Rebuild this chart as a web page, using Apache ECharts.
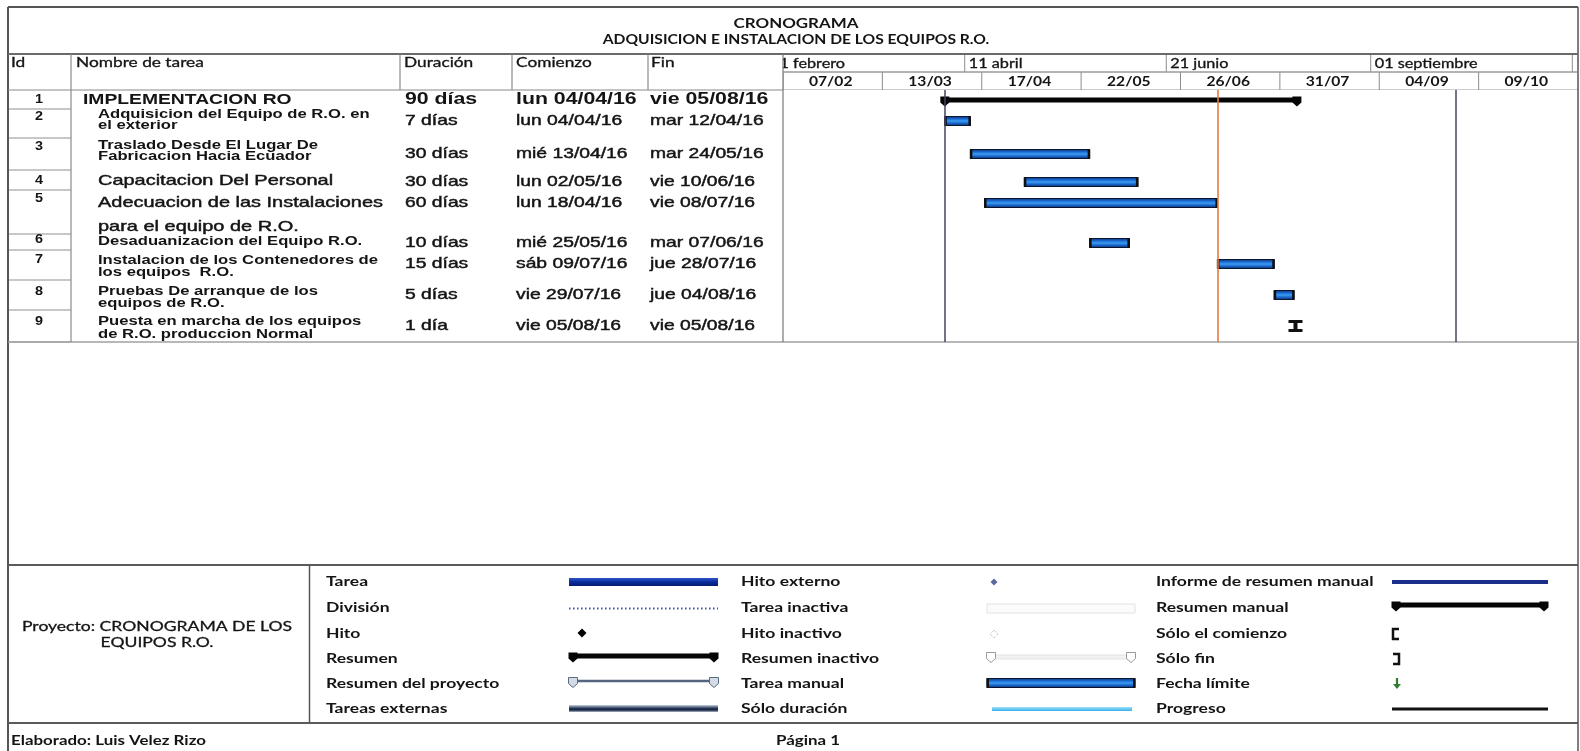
<!DOCTYPE html>
<html>
<head>
<meta charset="utf-8">
<script src="https://cdn.jsdelivr.net/npm/echarts@6/dist/echarts.min.js"></script>
<style>
  html, body { margin: 0; padding: 0; background: #fff; }
  #chart { width: 1580px; height: 751px; }
</style>
</head>
<body>
<div id="chart"></div>
<script>
// ---------------- Schedule data ----------------
const taskIds = [1, 2, 3, 4, 5, 6, 7, 8, 9];
const taskNames = [
  'IMPLEMENTACION RO',
  'Adquisicion del Equipo de R.O. en\nel exterior',
  'Traslado Desde El Lugar De\nFabricacion Hacia Ecuador',
  'Capacitacion Del Personal',
  'Adecuacion de las Instalaciones\npara el equipo de R.O.',
  'Desaduanizacion del Equipo R.O.',
  'Instalacion de los Contenedores de\nlos equipos  R.O.',
  'Pruebas De arranque de los\nequipos de R.O.',
  'Puesta en marcha de los equipos\nde R.O. produccion Normal'
];
const durationDays = [90, 7, 30, 30, 60, 10, 15, 5, 1];
const startDates = ['2016-04-04', '2016-04-04', '2016-04-13', '2016-05-02', '2016-04-18',
                    '2016-05-25', '2016-07-09', '2016-07-29', '2016-08-05'];
const finishDates = ['2016-08-05', '2016-04-12', '2016-05-24', '2016-06-10', '2016-07-08',
                     '2016-06-07', '2016-07-28', '2016-08-04', '2016-08-05'];
const taskKinds = ['summary', 'task', 'task', 'task', 'task', 'task', 'task', 'task', 'startFinish'];

// Timescale tiers
const upperTierStarts = ['2016-02-01', '2016-04-11', '2016-06-21', '2016-09-01', '2016-11-11'];
const upperTierLabels = ['01 febrero', '11 abril', '21 junio', '01 septiembre', '11 noviembre'];
const lowerTierStarts = ['2016-02-07', '2016-03-13', '2016-04-17', '2016-05-22',
                         '2016-06-26', '2016-07-31', '2016-09-04', '2016-10-09'];
const lowerTierLabels = ['07/02', '13/03', '17/04', '22/05', '26/06', '31/07', '04/09', '09/10'];
const scaleStart = '2016-02-07';
const scaleEnd = '2016-11-13';

// Vertical date markers
const projectStartDate = '2016-04-04';
const currentDate = '2016-07-09';
const outerMarkerDate = '2016-10-01';

// Texts
const titleLines = ['CRONOGRAMA', 'ADQUISICION E INSTALACION DE LOS EQUIPOS R.O.'];
const columnHeaders = ['Id', 'Nombre de tarea', 'Duración', 'Comienzo', 'Fin'];
const legendCol1 = ['Tarea', 'División', 'Hito', 'Resumen', 'Resumen del proyecto', 'Tareas externas'];
const legendCol2 = ['Hito externo', 'Tarea inactiva', 'Hito inactivo', 'Resumen inactivo', 'Tarea manual', 'Sólo duración'];
const legendCol3 = ['Informe de resumen manual', 'Resumen manual', 'Sólo el comienzo', 'Sólo fin', 'Fecha límite', 'Progreso'];
const projectLines = ['Proyecto: CRONOGRAMA DE LOS', 'EQUIPOS R.O.'];
const footerLeft = 'Elaborado: Luis Velez Rizo';
const footerCenter = 'Página 1';

// ---------------- Layout ----------------
const SX = 1.33;                       // wide lettering of the printed sheet
const TABLE_FONT = '"Liberation Sans", Arial, sans-serif';
const HEAD_FONT = 'Lato, "Open Sans", sans-serif';
const INK = '#141414';
const RULE = '#8a8a8a';
const FRAME = '#555';

const FRAME_L = 8, FRAME_R = 1578, FRAME_T = 7;
const HEAD_T = 54, BODY_T = 90, BODY_B = 342, LEG_T = 565, LEG_B = 723;
const CHART_L = 783;
const COL_SEP = [71, 400, 512, 648];

// rows, in offsets from the top of the body
const rowEdges = [0, 19, 48, 80, 100, 144, 160, 190, 220, 252];
const rowMid = [10, 31, 64, 92, 113, 153, 174, 205, 236];
const idY = [10, 27, 57, 91, 109, 150, 170, 202, 232];
const nameY = [[10], [25, 36], [56, 67], [91], [113, 137], [152], [171, 183], [202, 214], [232, 245]];
const nameKind = ['main', 'small', 'small', 'large', 'large', 'small', 'small', 'small', 'small'];
// table columns, offsets from the table's left edge
const COL = { idEnd: 63, id: 31, nameMain: 75, nameSub: 90, dur: 397, start: 508, fin: 642 };

// ---------------- Helpers ----------------
function parts(s) { return s.split('-').map(Number); }
function ts(s) { const [y, m, d] = parts(s); return new Date(y, m - 1, d).getTime(); }
function dayAfter(s) { const [y, m, d] = parts(s); return new Date(y, m - 1, d + 1).getTime(); }
const WEEKDAYS = ['dom', 'lun', 'mar', 'mié', 'jue', 'vie', 'sáb'];
function two(n) { return String(n).padStart(2, '0'); }
function fmtDate(s) {
  const [y, m, d] = parts(s);
  return WEEKDAYS[new Date(y, m - 1, d).getDay()] + ' ' + two(d) + '/' + two(m) + '/' + two(y % 100);
}
function fmtDuration(n) { return n === 1 ? '1 día' : n + ' días'; }

function txt(x, y, text, o) {
  o = o || {};
  const align = o.align || 'left';
  const style = {
    text: text, fill: o.color || INK,
    fontFamily: o.family || HEAD_FONT, fontSize: o.size || 13, fontWeight: o.weight || 'normal',
    align: align, verticalAlign: 'middle', textAlign: align, textVerticalAlign: 'middle'
  };
  if (o.heavy) { style.stroke = o.color || INK; style.lineWidth = o.heavy; }
  return { type: 'text', x: x, y: y, scaleX: o.sx || SX, silent: true, z: 10, style: style };
}
function seg(x1, y1, x2, y2, color, w, dash) {
  return { type: 'line', silent: true, z: 5, shape: { x1, y1, x2, y2 },
           style: { stroke: color || RULE, lineWidth: w || 1, lineDash: dash || null } };
}

const BAR_FILL = () => new echarts.graphic.LinearGradient(0, 0, 0, 1, [
  { offset: 0, color: '#0c2c6a' }, { offset: 0.3, color: '#1b6cd4' },
  { offset: 0.5, color: '#3c9cf2' }, { offset: 0.72, color: '#1a66cc' },
  { offset: 1, color: '#09275f' }
]);

function taskParts(x0, x1, y) {
  return [
    { type: 'rect', shape: { x: x0, y: y - 4.5, width: Math.max(x1 - x0, 1), height: 9 },
      style: { fill: BAR_FILL(), stroke: '#0a1630', lineWidth: 1 } },
    { type: 'rect', shape: { x: x0 - 0.5, y: y - 5, width: 2.5, height: 10 }, style: { fill: '#111' } },
    { type: 'rect', shape: { x: x1 - 2, y: y - 5, width: 2.5, height: 10 }, style: { fill: '#111' } }
  ];
}
function capPoints(x, y) {
  return [[x - 4.5, y - 3.5], [x + 4.5, y - 3.5], [x + 4.5, y + 2.5], [x, y + 6.5], [x - 4.5, y + 2.5]];
}
function summaryParts(x0, x1, y, fill) {
  return [
    { type: 'rect', shape: { x: x0, y: y - 2.5, width: x1 - x0, height: 5 }, style: { fill } },
    { type: 'polygon', shape: { points: capPoints(x0, y) }, style: { fill } },
    { type: 'polygon', shape: { points: capPoints(x1, y) }, style: { fill } }
  ];
}
function startFinishParts(cx, y) {
  return [
    { type: 'rect', shape: { x: cx - 7, y: y - 6, width: 14, height: 3 }, style: { fill: '#111' } },
    { type: 'rect', shape: { x: cx - 7, y: y + 3, width: 14, height: 3 }, style: { fill: '#111' } },
    { type: 'rect', shape: { x: cx - 2, y: y - 6, width: 4, height: 12 }, style: { fill: '#111' } }
  ];
}
function diamond(cx, cy, r) { return [[cx, cy - r], [cx + r, cy], [cx, cy + r], [cx - r, cy]]; }

// ---------------- Series data ----------------
const AXIS_MIN = ts(scaleStart), AXIS_MAX = ts(scaleEnd);

const taskData = taskIds.map((id, i) => [ts(startDates[i]), dayAfter(finishDates[i]), i]);

const upperTierData = upperTierStarts.map((s, i) =>
  [ts(s), i + 1 < upperTierStarts.length ? ts(upperTierStarts[i + 1]) : AXIS_MAX, 0, i]);
const lowerTierData = lowerTierStarts.map((s, i) =>
  [ts(s), i + 1 < lowerTierStarts.length ? ts(lowerTierStarts[i + 1]) : AXIS_MAX, 1, i]);

function tierRenderer(labels, centered) {
  return function (params, api) {
    const tier = api.value(2), idx = api.value(3);
    const a = api.coord([api.value(0), tier]);
    const b = api.coord([api.value(1), tier + 1]);
    const midY = (a[1] + b[1]) / 2 + 0.5;
    const label = centered
      ? txt((a[0] + b[0]) / 2 - 2, midY, labels[idx], { size: 12.5, align: 'center', weight: 'bold', sx: 1.25 })
      : txt(a[0] + 4, midY, labels[idx], { size: 12.5, sx: 1.3, heavy: 0.3 });
    return {
      type: 'group',
      children: [
        seg(a[0], a[1], a[0], b[1], '#8c8c8c', 1),
        seg(a[0], b[1], b[0], b[1], '#9a9a9a', 1),
        label
      ]
    };
  };
}

function renderTask(params, api) {
  const i = api.value(2);
  const p0 = api.coord([api.value(0), rowMid[i]]);
  const p1 = api.coord([api.value(1), rowMid[i]]);
  let children;
  if (taskKinds[i] === 'summary') children = summaryParts(p0[0], p1[0], p0[1], '#050505');
  else if (taskKinds[i] === 'startFinish') children = startFinishParts((p0[0] + p1[0]) / 2, p0[1]);
  else children = taskParts(p0[0], p1[0], p0[1]);
  return { type: 'group', children };
}

function renderRow(params, api) {
  const i = api.value(0);
  const at = (x, y) => api.coord([x, y]);
  const children = [];
  // Id cell
  const l = at(0, rowEdges[i + 1]), r = at(COL.idEnd, rowEdges[i + 1]);
  children.push(seg(l[0], l[1], r[0], r[1], '#8f8f8f', 1.2));
  const idp = at(COL.id, idY[i]);
  children.push(txt(idp[0], idp[1], String(taskIds[i]),
    { family: TABLE_FONT, size: 12, weight: 'bold', align: 'center', sx: 1.2 }));
  // task name
  const kind = nameKind[i];
  const nameFont = kind === 'main' ? { size: 14.5, weight: 'bold' }
                 : kind === 'large' ? { size: 15, weight: 'normal', heavy: 0.45 }
                 : { size: 12.5, weight: 'bold' };
  const lines = taskNames[i].split('\n');
  lines.forEach((line, k) => {
    const p = at(kind === 'main' ? COL.nameMain : COL.nameSub, nameY[i][k]);
    children.push(txt(p[0], p[1], line,
      { family: TABLE_FONT, size: nameFont.size, weight: nameFont.weight, heavy: nameFont.heavy }));
  });
  // duration, start, finish
  const fieldFont = i === 0 ? { size: 16, weight: 'bold' } : { size: 14.5, weight: 'normal', heavy: 0.45 };
  const fields = [[COL.dur, fmtDuration(durationDays[i])], [COL.start, fmtDate(startDates[i])], [COL.fin, fmtDate(finishDates[i])]];
  fields.forEach(([x, s]) => {
    const p = at(x, rowMid[i]);
    children.push(txt(p[0], p[1], s,
      { family: TABLE_FONT, size: fieldFont.size, weight: fieldFont.weight, heavy: fieldFont.heavy }));
  });
  return { type: 'group', children };
}

// ---------------- Static sheet elements ----------------
const g = [];
// frame and rules
g.push(seg(FRAME_L, FRAME_T, FRAME_R, FRAME_T, FRAME, 2));
g.push(seg(FRAME_L, FRAME_T, FRAME_L, 751, FRAME, 2));
g.push(seg(FRAME_R, FRAME_T, FRAME_R, 751, FRAME, 1.5));
g.push(seg(FRAME_L, HEAD_T, FRAME_R, HEAD_T, '#6a6a6a', 2));
g.push(seg(FRAME_L, BODY_T, CHART_L, BODY_T, RULE, 1.2));
g.push(seg(FRAME_L, BODY_B, FRAME_R, BODY_B, '#a0a0a0', 1.5));
g.push(seg(FRAME_L, LEG_T, FRAME_R, LEG_T, '#5a5a5a', 2));
g.push(seg(FRAME_L, LEG_B, FRAME_R, LEG_B, '#5a5a5a', 2));
g.push(seg(309.5, LEG_T, 309.5, LEG_B, '#555', 1.5));
COL_SEP.forEach((x, k) => g.push(seg(x, HEAD_T, x, k === 0 ? BODY_B : BODY_T, RULE, 1.2)));
g.push(seg(CHART_L, HEAD_T, CHART_L, BODY_B, '#777', 1.2));
g.push(seg(CHART_L, 72, FRAME_R, 72, '#9a9a9a', 1));

// title
g.push(txt(796, 24, titleLines[0], { size: 13, weight: 'bold', align: 'center', sx: 1.3 }));
g.push(txt(796, 40, titleLines[1], { size: 12.5, weight: 'bold', align: 'center', sx: 1.25 }));

// column headers
const headerX = [11, 76, 404, 516, 651];
columnHeaders.forEach((h, k) => g.push(txt(headerX[k], 63, h, { size: 13, heavy: 0.3 })));

// legend
const legendY = [582, 608, 634, 659, 684, 709];
const legendLabelX = [326, 741, 1156];
[legendCol1, legendCol2, legendCol3].forEach((col, c) =>
  col.forEach((s, r) => g.push(txt(legendLabelX[c], legendY[r], s, { size: 13.5, weight: 'bold', sx: 1.3 }))));

// legend swatches, column 1
g.push({ type: 'rect', z: 6, shape: { x: 569, y: 578, width: 149, height: 8 },
  style: { fill: new echarts.graphic.LinearGradient(0, 0, 0, 1, [
    { offset: 0, color: '#2d56c8' }, { offset: 0.5, color: '#0a2c9c' }, { offset: 1, color: '#061c6c' }]) } });
g.push(seg(569, 608.5, 718, 608.5, '#3a50b4', 2, [1.5, 2.5]));
g.push({ type: 'polygon', z: 6, shape: { points: diamond(582, 633, 4.5) }, style: { fill: '#000' } });
g.push({ type: 'group', z: 6, children: summaryParts(573, 714, 656, '#050505') });
g.push(seg(573, 681, 714, 681, '#55657f', 2.5));
g.push({ type: 'polygon', z: 6, shape: { points: capPoints(573, 681) }, style: { fill: '#d4dbe6', stroke: '#5a6a80', lineWidth: 1 } });
g.push({ type: 'polygon', z: 6, shape: { points: capPoints(714, 681) }, style: { fill: '#d4dbe6', stroke: '#5a6a80', lineWidth: 1 } });
g.push({ type: 'rect', z: 6, shape: { x: 569, y: 705, width: 149, height: 7 },
  style: { fill: new echarts.graphic.LinearGradient(0, 0, 0, 1, [
    { offset: 0, color: '#c9d3e3' }, { offset: 0.45, color: '#2a3a5c' }, { offset: 0.7, color: '#15213a' }, { offset: 1, color: '#a9b6cc' }]) } });

// legend swatches, column 2
g.push({ type: 'polygon', z: 6, shape: { points: diamond(994, 582, 3.5) }, style: { fill: '#5a6aa0' } });
g.push({ type: 'rect', z: 6, shape: { x: 987, y: 604, width: 148, height: 9 }, style: { fill: '#fbfbfb', stroke: '#e2e2e2', lineWidth: 1 } });
g.push({ type: 'polygon', z: 6, shape: { points: diamond(994, 634, 4) }, style: { fill: 'none', stroke: '#b5b5b5', lineWidth: 1, lineDash: [1, 1] } });
g.push({ type: 'rect', z: 6, shape: { x: 991, y: 655, width: 140, height: 4 }, style: { fill: '#f2f2f2', stroke: '#e2e2e2', lineWidth: 1 } });
g.push({ type: 'polygon', z: 6, shape: { points: capPoints(991, 656) }, style: { fill: '#fff', stroke: '#9a9a9a', lineWidth: 1 } });
g.push({ type: 'polygon', z: 6, shape: { points: capPoints(1131, 656) }, style: { fill: '#fff', stroke: '#9a9a9a', lineWidth: 1 } });
g.push({ type: 'group', z: 6, children: taskParts(987, 1135, 683) });
g.push({ type: 'rect', z: 6, shape: { x: 992, y: 707, width: 140, height: 4 },
  style: { fill: new echarts.graphic.LinearGradient(0, 0, 0, 1, [
    { offset: 0, color: '#9ee0fa' }, { offset: 1, color: '#36b0ea' }]) } });

// legend swatches, column 3
g.push({ type: 'rect', z: 6, shape: { x: 1392, y: 580, width: 156, height: 4 }, style: { fill: '#1b2f8a' } });
g.push(seg(1392, 582, 1548, 582, '#3d6be0', 1));
g.push({ type: 'group', z: 6, children: summaryParts(1396, 1544, 605, '#050505') });
g.push({ type: 'polyline', z: 6, shape: { points: [[1399, 629], [1393, 629], [1393, 639], [1399, 639]] }, style: { stroke: '#111', lineWidth: 2.5, fill: null } });
g.push({ type: 'polyline', z: 6, shape: { points: [[1393, 654], [1399, 654], [1399, 664], [1393, 664]] }, style: { stroke: '#111', lineWidth: 2.5, fill: null } });
g.push(seg(1397, 678, 1397, 685, '#2e7d32', 2.2));
g.push({ type: 'polygon', z: 6, shape: { points: [[1393, 684], [1401, 684], [1397, 689]] }, style: { fill: '#2e7d32' } });
g.push(seg(1392, 709, 1548, 709, '#111', 3));

// project box and footer
g.push(txt(157, 627, projectLines[0], { size: 13.5, align: 'center', sx: 1.3, heavy: 0.3 }));
g.push(txt(157, 643, projectLines[1], { size: 13.5, align: 'center', sx: 1.3, heavy: 0.3 }));
g.push(txt(11, 741, footerLeft, { size: 13, weight: 'bold', sx: 1.3 }));
g.push(txt(776, 741, footerCenter, { size: 13, weight: 'bold', sx: 1.3 }));

// ---------------- Chart ----------------
const chart = echarts.init(document.getElementById('chart'), null, { renderer: 'canvas' });
chart.setOption({
  animation: false,
  backgroundColor: '#ffffff',
  grid: [
    { left: CHART_L, top: HEAD_T, width: FRAME_R - CHART_L, height: BODY_T - HEAD_T },
    { left: CHART_L, top: BODY_T, width: FRAME_R - CHART_L, height: BODY_B - BODY_T },
    { left: FRAME_L, top: BODY_T, width: CHART_L - FRAME_L, height: BODY_B - BODY_T }
  ],
  xAxis: [
    { type: 'time', gridIndex: 0, min: AXIS_MIN, max: AXIS_MAX, show: false },
    { type: 'time', gridIndex: 1, min: AXIS_MIN, max: AXIS_MAX, show: false },
    { type: 'value', gridIndex: 2, min: 0, max: CHART_L - FRAME_L, show: false }
  ],
  yAxis: [
    { type: 'value', gridIndex: 0, min: 0, max: 2, inverse: true, show: false },
    { type: 'value', gridIndex: 1, min: 0, max: BODY_B - BODY_T, inverse: true, show: false },
    { type: 'value', gridIndex: 2, min: 0, max: BODY_B - BODY_T, inverse: true, show: false }
  ],
  series: [
    { type: 'custom', name: 'escala superior', xAxisIndex: 0, yAxisIndex: 0, clip: true, silent: true,
      encode: { x: [0, 1], y: 2 }, data: upperTierData, renderItem: tierRenderer(upperTierLabels, false) },
    { type: 'custom', name: 'escala inferior', xAxisIndex: 0, yAxisIndex: 0, clip: true, silent: true,
      encode: { x: [0, 1], y: 2 }, data: lowerTierData, renderItem: tierRenderer(lowerTierLabels, true) },
    { type: 'custom', name: 'tareas', xAxisIndex: 1, yAxisIndex: 1, clip: true, silent: true, z: 4,
      encode: { x: [0, 1], y: 2 }, data: taskData, renderItem: renderTask,
      markLine: {
        silent: true, symbol: 'none', label: { show: false }, animation: false,
        data: [
          { xAxis: ts(projectStartDate), lineStyle: { color: '#454560', width: 1.5, type: 'solid' } },
          { xAxis: ts(currentDate), lineStyle: { color: '#ea7a3e', width: 1.6, type: 'solid' } },
          { xAxis: ts(outerMarkerDate), lineStyle: { color: '#454560', width: 1.5, type: 'solid' } }
        ]
      } },
    { type: 'custom', name: 'tabla', xAxisIndex: 2, yAxisIndex: 2, silent: true,
      encode: { x: 1, y: 1 }, data: taskIds.map((id, i) => [i, rowMid[i]]), renderItem: renderRow }
  ],
  graphic: { elements: g }
});
</script>
</body>
</html>
